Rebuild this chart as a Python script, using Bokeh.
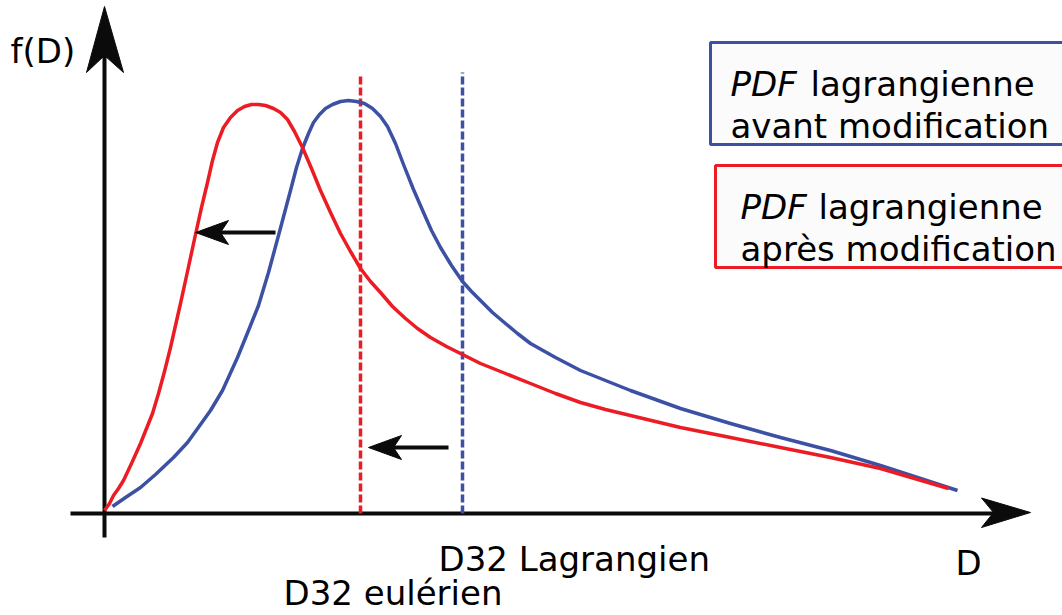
from bokeh.plotting import figure
from bokeh.models import Range1d
from bokeh.core.properties import value
from bokeh.embed import file_html
from bokeh.resources import INLINE

# ---- data (chart units: D along x, f(D) along y, origin at axes crossing) ----
red_D = [0, 5, 9, 14, 19, 27, 36, 42, 48, 54, 60, 66, 71, 76, 83, 91, 97, 103, 108, 113, 119,
         126, 133, 140, 147, 154, 161, 169, 176, 183, 190, 198, 207, 216, 226, 236, 246, 256,
         266, 276, 288, 301, 313, 326, 342, 358, 376, 401, 426, 451, 476, 501, 526, 576, 626,
         676, 726, 776, 844]
red_f = [3, 10, 18, 25, 33, 50, 70, 85, 100, 120, 142, 166, 188, 210, 242, 279, 306, 331, 353,
         371, 386, 396, 403, 407, 409, 409, 408, 405, 401, 394, 382, 366, 345, 323, 301, 280,
         262, 245, 232, 221, 207, 195, 185, 176, 167, 159, 150, 140, 130, 120, 111, 104, 98,
         86, 76, 66, 56, 45, 25]

blue_D = [8, 21, 36, 51, 69, 83, 96, 106, 118, 133, 144, 154, 164, 174, 186, 192, 198, 204, 209,
          215, 221, 228, 236, 244, 252, 260, 268, 276, 283, 291, 299, 309, 319, 327, 336, 347,
          358, 367, 376, 388, 401, 413, 426, 451, 476, 501, 526, 576, 626, 676, 726, 776, 853]
blue_f = [7, 16, 26, 39, 56, 71, 89, 103, 123, 156, 183, 208, 241, 278, 323, 346, 365, 380, 391,
          399, 405, 409, 412, 413, 412, 410, 405, 397, 387, 370, 349, 324, 301, 283, 266, 248,
          232, 222, 213, 201, 190, 180, 170, 156, 143, 133, 123, 105, 90, 76, 63, 48, 23]

d32_euler = 256
d32_lagr = 358
d32_euler_top = 438
d32_lagr_top = 441

legend_lines_blue = ["lagrangienne", "avant modification"]
legend_lines_red = ["lagrangienne", "après modification"]

BLUE = "#3c51a3"
RED = "#ec1c24"
INK = "#0b0b0b"
FONT = value("DejaVu Sans")
FS = value("34px")

p = figure(width=1062, height=615, x_range=Range1d(-104, 958), y_range=Range1d(-102, 513),
           output_backend="svg", toolbar_location=None, min_border=0,
           x_axis_location=None, y_axis_location=None)
p.grid.visible = False
p.outline_line_color = None
p.background_fill_color = "white"

# axes with arrowheads
p.line([-34, 889], [0, 0], line_color=INK, line_width=4)
p.line([0, 0], [-24, 458], line_color=INK, line_width=4)
p.patch([926, 877, 889, 877], [1, 15.5, 1, -14], fill_color=INK, line_color=INK, line_width=1)
p.patch([0, -18, 0, 19], [507, 441, 458, 441], fill_color=INK, line_color=INK, line_width=1)

# D32 dashed lines
p.line([d32_euler, d32_euler], [0, d32_euler_top], line_color=RED, line_width=3.5, line_dash="8 3")
p.line([d32_lagr, d32_lagr], [0, d32_lagr_top], line_color=BLUE, line_width=3.5, line_dash="8 3")

# PDF curves
p.line(blue_D, blue_f, line_color=BLUE, line_width=3.5, line_join="round")
p.line(red_D, red_f, line_color=RED, line_width=3.5, line_join="round")

# shift arrows
def shift_arrow(tip_x, tail_x, y):
    p.line([tip_x + 20, tail_x], [y, y], line_color=INK, line_width=4)
    p.patch([tip_x, tip_x + 33, tip_x + 25, tip_x + 33], [y, y + 12, y, y - 12],
            fill_color=INK, line_color=INK, line_width=1)

shift_arrow(91, 171, 281)
shift_arrow(d32_euler + 8, d32_lagr - 14, 66)

# legend boxes
p.quad(left=[606], right=[990], top=[471], bottom=[369], fill_color="#fbfbfb",
       line_color=BLUE, line_width=3)
p.quad(left=[611], right=[990], top=[348], bottom=[246], fill_color="#fbfbfb",
       line_color=RED, line_width=3)

def txt(x, y, s, style="normal", align="left"):
    p.text(x=[x], y=[y], text=[s], text_font=FONT, text_font_size=FS,
           text_font_style=style, text_color="black", text_baseline="alphabetic",
           text_align=align)

txt(626, 430, "PDF", "italic")
txt(706, 430, legend_lines_blue[0])
txt(626, 388, legend_lines_blue[1])
txt(636, 307, "PDF", "italic")
txt(714, 307, legend_lines_red[0])
txt(636, 265, legend_lines_red[1])

txt(-94, 463, "f(D)")
txt(864, -49, "D", align="center")
txt(d32_lagr - 24, -45, "D32 Lagrangien")
txt(d32_euler - 77, -79, "D32 eulérien")

open("out.html", "w").write(file_html(p, INLINE))
